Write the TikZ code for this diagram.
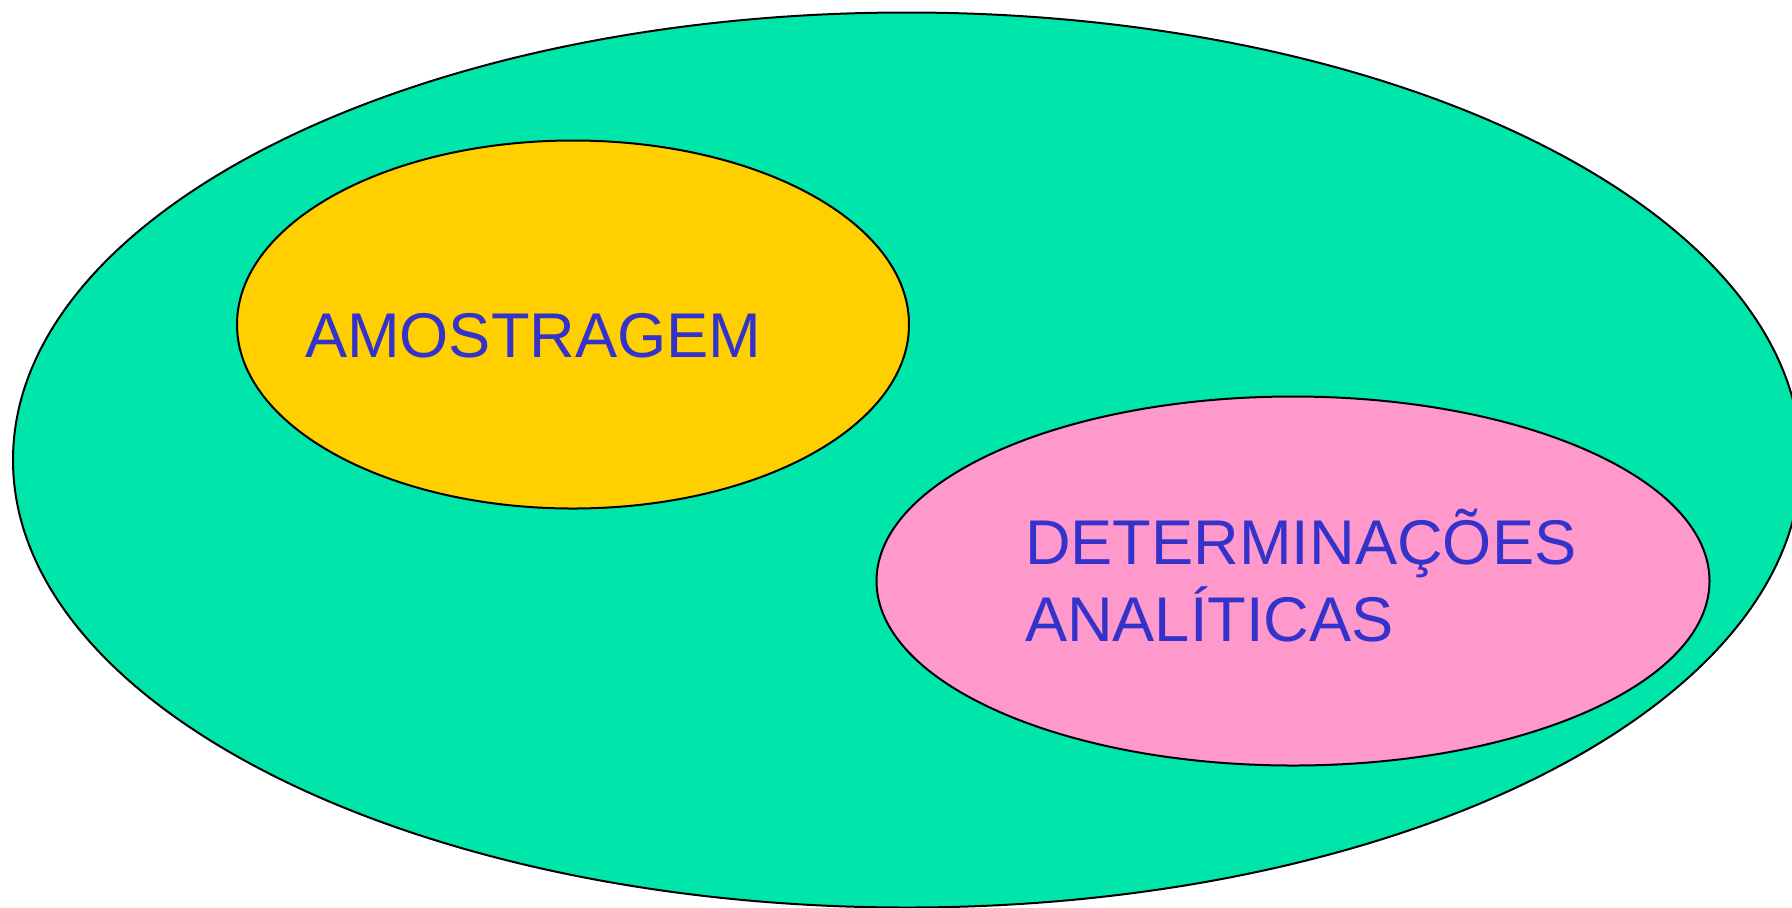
\documentclass[tikz,border=0pt]{standalone}
\usepackage{fontspec}
\setmainfont{Liberation Sans}
\usetikzlibrary{positioning}
\definecolor{field}{HTML}{00E5AA}
\definecolor{sample}{HTML}{FFCF00}
\definecolor{assay}{HTML}{FF99CC}
\definecolor{ink}{HTML}{3333CC}

\begin{document}
\begin{tikzpicture}[x=0.5pt,y=-0.5pt,line width=1pt,
  word/.style={inner sep=0pt,anchor=base west,text=ink,
    font=\fontsize{31.6}{38.5}\selectfont}]
 \useasboundingbox (0,0) rectangle (1792,907);
 \clip (0,0) rectangle (1792,907);
 % outer set and the two inner sets
 \filldraw[fill=field] (907,460) ellipse [x radius=894, y radius=447.5];
 \filldraw[fill=sample] (573,324.5) ellipse [x radius=336, y radius=184];
 \filldraw[fill=assay] (1293,581) ellipse [x radius=416.5, y radius=184.5];
 \node[word] (amostra) at (304,357) {AMOSTRAGEM};
 \node[word] (determ) at (1024,564) {DETERMINAÇÕES};
 \node[word] (analit) at (1024,641) {ANALÍTICAS};
\end{tikzpicture}
\end{document}
